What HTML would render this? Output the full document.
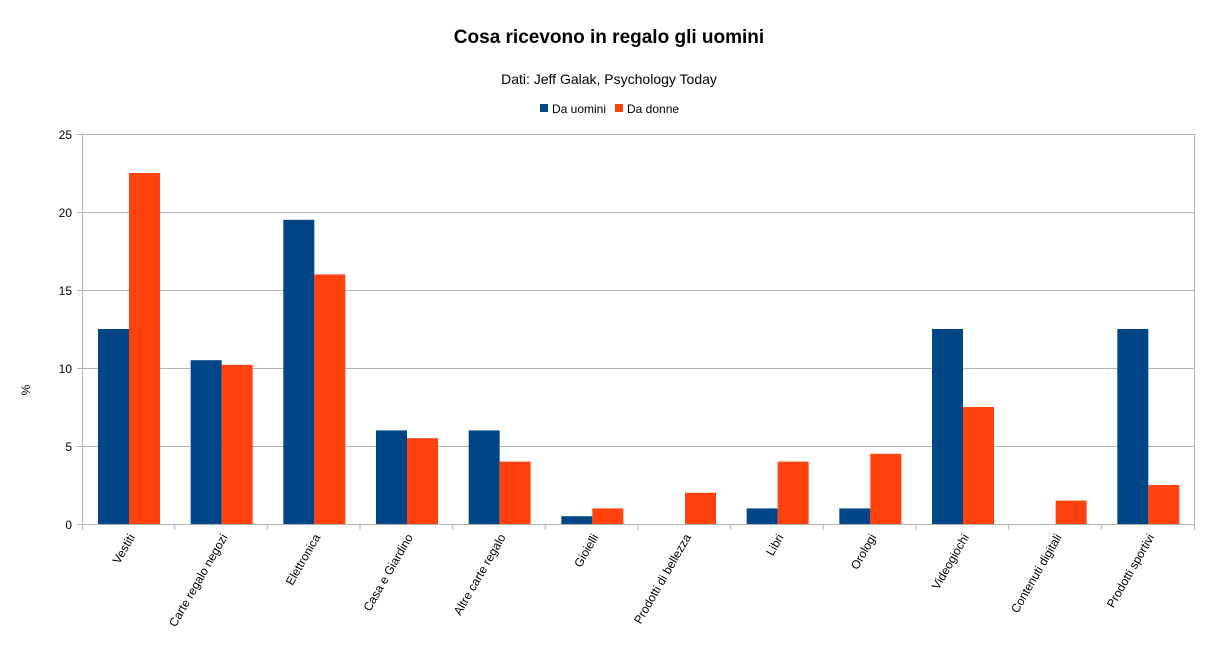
<!DOCTYPE html>
<html><head><meta charset="utf-8"><style>body{margin:0;background:#fff}svg{display:block}</style></head><body>
<svg width="1219" height="659" xmlns="http://www.w3.org/2000/svg" font-family="Liberation Sans, sans-serif">
<text x="609" y="43" text-anchor="middle" font-size="19" font-weight="bold">Cosa ricevono in regalo gli uomini</text>
<text x="609" y="84" text-anchor="middle" font-size="14">Dati: Jeff Galak, Psychology Today</text>
<rect x="540" y="104" width="8" height="8" fill="#004586"/><text x="552" y="113" font-size="12">Da uomini</text>
<rect x="615" y="104" width="8" height="8" fill="#ff420e"/><text x="627" y="113" font-size="12">Da donne</text>
<text x="30" y="390" font-size="12" text-anchor="middle" transform="rotate(-90 30 390)">%</text>
<g stroke="#b3b3b3" stroke-width="1">
<line x1="82" y1="134.5" x2="1194" y2="134.5"/><line x1="82" y1="212.5" x2="1194" y2="212.5"/>
<line x1="82" y1="290.5" x2="1194" y2="290.5"/><line x1="82" y1="368.5" x2="1194" y2="368.5"/>
<line x1="82" y1="446.5" x2="1194" y2="446.5"/><line x1="82" y1="524.5" x2="1194" y2="524.5"/>
<line x1="82.5" y1="134" x2="82.5" y2="530"/><line x1="1194.5" y1="134" x2="1194.5" y2="530"/>
<line x1="77" y1="134.5" x2="82" y2="134.5"/><line x1="77" y1="212.5" x2="82" y2="212.5"/><line x1="77" y1="290.5" x2="82" y2="290.5"/><line x1="77" y1="368.5" x2="82" y2="368.5"/><line x1="77" y1="446.5" x2="82" y2="446.5"/><line x1="77" y1="524.5" x2="82" y2="524.5"/>
<line x1="174.7" y1="524" x2="174.7" y2="530"/><line x1="267.3" y1="524" x2="267.3" y2="530"/><line x1="360" y1="524" x2="360" y2="530"/><line x1="452.7" y1="524" x2="452.7" y2="530"/><line x1="545.3" y1="524" x2="545.3" y2="530"/><line x1="638" y1="524" x2="638" y2="530"/><line x1="730.7" y1="524" x2="730.7" y2="530"/><line x1="823.3" y1="524" x2="823.3" y2="530"/><line x1="916" y1="524" x2="916" y2="530"/><line x1="1008.7" y1="524" x2="1008.7" y2="530"/><line x1="1101.3" y1="524" x2="1101.3" y2="530"/>
</g>
<g font-size="12" text-anchor="end">
<text x="72" y="139">25</text><text x="72" y="217">20</text><text x="72" y="295">15</text><text x="72" y="373">10</text><text x="72" y="451">5</text><text x="72" y="529">0</text>
</g>
<g fill="#004586">
<rect x="98" y="329" width="31" height="195"/>
<rect x="190.67" y="360.2" width="31" height="163.8"/>
<rect x="283.33" y="219.8" width="31" height="304.2"/>
<rect x="376" y="430.4" width="31" height="93.6"/>
<rect x="468.67" y="430.4" width="31" height="93.6"/>
<rect x="561.33" y="516.2" width="31" height="7.8"/>
<rect x="746.67" y="508.4" width="31" height="15.6"/>
<rect x="839.33" y="508.4" width="31" height="15.6"/>
<rect x="932" y="329" width="31" height="195"/>
<rect x="1117.33" y="329" width="31" height="195"/>
</g>
<g fill="#ff420e">
<rect x="129" y="173" width="31" height="351"/>
<rect x="221.67" y="364.88" width="31" height="159.12"/>
<rect x="314.33" y="274.4" width="31" height="249.6"/>
<rect x="407" y="438.2" width="31" height="85.8"/>
<rect x="499.67" y="461.6" width="31" height="62.4"/>
<rect x="592.33" y="508.4" width="31" height="15.6"/>
<rect x="685" y="492.8" width="31" height="31.2"/>
<rect x="777.67" y="461.6" width="31" height="62.4"/>
<rect x="870.33" y="453.8" width="31" height="70.2"/>
<rect x="963" y="407" width="31" height="117"/>
<rect x="1055.67" y="500.6" width="31" height="23.4"/>
<rect x="1148.33" y="485" width="31" height="39"/>
</g>
<g font-size="12" text-anchor="end">
<text transform="translate(135.3,537) rotate(-60)">Vestiti</text>
<text transform="translate(228,537) rotate(-60)">Carte regalo negozi</text>
<text transform="translate(320.7,537) rotate(-60)">Elettronica</text>
<text transform="translate(413.3,537) rotate(-60)">Casa e Giardino</text>
<text transform="translate(506,537) rotate(-60)">Altre carte regalo</text>
<text transform="translate(598.7,537) rotate(-60)">Gioielli</text>
<text transform="translate(691.3,537) rotate(-60)">Prodotti di bellezza</text>
<text transform="translate(784,537) rotate(-60)">Libri</text>
<text transform="translate(876.7,537) rotate(-60)">Orologi</text>
<text transform="translate(969.3,537) rotate(-60)">Videogiochi</text>
<text transform="translate(1062,537) rotate(-60)">Contenuti digitali</text>
<text transform="translate(1154.7,537) rotate(-60)">Prodotti sportivi</text>
</g>
</svg>
</body></html>
